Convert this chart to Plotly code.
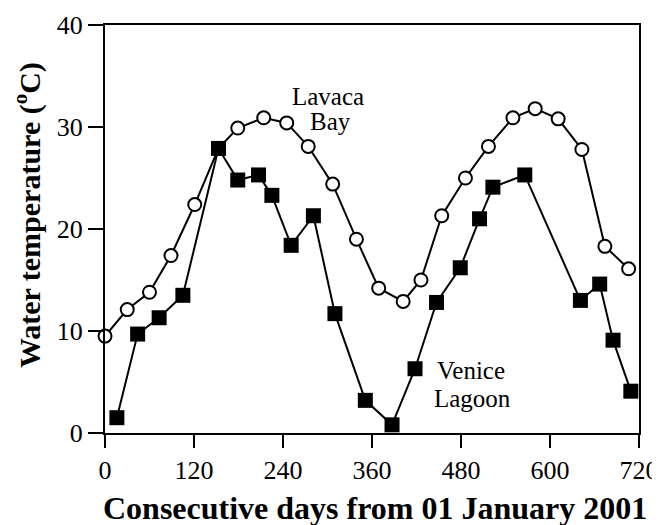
import plotly.graph_objects as go

# Lavaca Bay (open circles)
lavaca_days = [0, 30, 60, 89, 121, 153, 179, 214, 245, 274, 307, 339, 369, 402, 426, 454, 486, 517, 550, 580, 611, 643, 674, 706]
lavaca_temp = [9.5, 12.1, 13.8, 17.4, 22.4, 27.9, 29.9, 30.9, 30.4, 28.1, 24.4, 19.0, 14.2, 12.9, 15.0, 21.3, 25.0, 28.1, 30.9, 31.8, 30.8, 27.8, 18.3, 16.1]

# Venice Lagoon (filled squares)
venice_days = [16, 44, 73, 105, 153, 179, 207, 225, 251, 281, 310, 351, 387, 418, 447, 479, 505, 523, 566, 641, 667, 685, 709]
venice_temp = [1.5, 9.7, 11.3, 13.5, 27.9, 24.8, 25.3, 23.3, 18.4, 21.3, 11.7, 3.2, 0.8, 6.3, 12.8, 16.2, 21.0, 24.1, 25.3, 13.0, 14.6, 9.1, 4.1]

x_ticks = [0, 120, 240, 360, 480, 600, 720]
y_ticks = [0, 10, 20, 30, 40]

FONT = "Liberation Serif, Times New Roman, serif"

fig = go.Figure()
fig.add_trace(go.Scatter(
    x=lavaca_days, y=lavaca_temp, mode="lines+markers",
    line=dict(color="black", width=2),
    marker=dict(symbol="circle", size=13, color="white", line=dict(color="black", width=2)),
    showlegend=False, cliponaxis=False,
))
fig.add_trace(go.Scatter(
    x=venice_days, y=venice_temp, mode="lines+markers",
    line=dict(color="black", width=2),
    marker=dict(symbol="square", size=15, color="black", line=dict(color="black", width=0)),
    showlegend=False, cliponaxis=False,
))

ann_font = dict(family=FONT, size=25, color="black")
fig.add_annotation(x=300, y=33.0, text="Lavaca", showarrow=False, font=ann_font, xanchor="center", yanchor="middle")
fig.add_annotation(x=304, y=30.5, text="Bay", showarrow=False, font=ann_font, xanchor="center", yanchor="middle")
fig.add_annotation(x=494, y=6.1, text="Venice", showarrow=False, font=ann_font, xanchor="center", yanchor="middle")
fig.add_annotation(x=495, y=3.4, text="Lagoon", showarrow=False, font=ann_font, xanchor="center", yanchor="middle")

# axis titles as annotations for exact placement
fig.add_annotation(xref="paper", yref="paper", x=0.5056, y=-0.185,
                   text="<b>Consecutive days from 01 January 2001</b>", showarrow=False,
                   font=dict(family=FONT, size=32, color="black"),
                   xanchor="center", yanchor="middle")
fig.add_annotation(xref="paper", yref="paper", x=-0.145, y=0.533, textangle=-90,
                   text="<b>Water temperature (<sup>o</sup>C)</b>", showarrow=False,
                   font=dict(family=FONT, size=30, color="black"),
                   xanchor="center", yanchor="middle")

# page body has an 8px margin, so the figure is sized/offset to compensate
fig.update_layout(
    width=652, height=517,
    margin=dict(l=97, r=21, t=17, b=92, autoexpand=False),
    paper_bgcolor="white", plot_bgcolor="white",
    font=dict(family=FONT, color="black"),
    xaxis=dict(
        range=[0, 720], tickvals=x_ticks, ticktext=[str(v) for v in x_ticks],
        ticks="outside", ticklen=13, tickwidth=2, tickcolor="black",
        showline=True, linecolor="black", linewidth=2, mirror=True,
        showgrid=False, zeroline=False, automargin=False,
        tickfont=dict(family=FONT, size=26, color="black"),
    ),
    yaxis=dict(
        range=[0, 40], tickvals=y_ticks, ticktext=[str(v) for v in y_ticks],
        ticks="outside", ticklen=15, tickwidth=2, tickcolor="black",
        showline=True, linecolor="black", linewidth=2, mirror=True,
        showgrid=False, zeroline=False, automargin=False,
        tickfont=dict(family=FONT, size=26, color="black"),
    ),
)

fig.write_html("out.html")
